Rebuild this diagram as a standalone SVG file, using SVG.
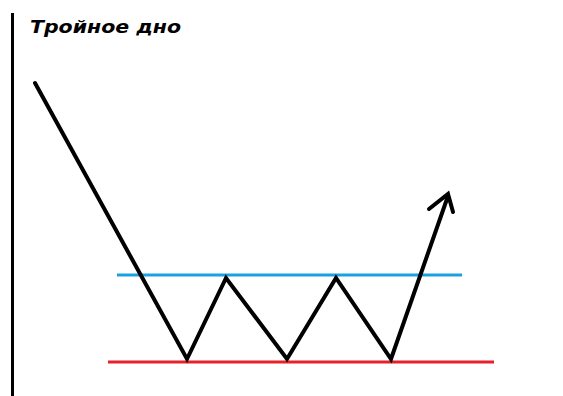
<svg xmlns="http://www.w3.org/2000/svg" width="563" height="396" viewBox="0 0 563 396">
<style>
.title{font-family:"DejaVu Sans","Liberation Sans",Arial,sans-serif;font-weight:bold;font-style:italic;font-size:18px;fill:#000}
.price{fill:none;stroke:#000;stroke-width:4;stroke-linejoin:miter;stroke-linecap:round}
</style>
<rect width="563" height="396" fill="#fff"/>
<g id="axis"><line x1="12.5" y1="13" x2="12.5" y2="396" stroke="#000" stroke-width="3"/></g>
<g id="title"><text class="title" x="30" y="33" textLength="151" lengthAdjust="spacingAndGlyphs">Тройное дно</text></g>
<g id="resistance"><line x1="117" y1="275" x2="462" y2="275" stroke="#1ba1e2" stroke-width="3"/></g>
<g id="support"><line x1="108" y1="362" x2="494" y2="362" stroke="#e8202a" stroke-width="3"/></g>
<g id="connectors">
<polyline class="price" points="35,83 187,359 226,278 287,359 336,278 391,359 448,196"/>
<polyline class="price" points="429,209 448,194 453,212"/>
</g>
</svg>
